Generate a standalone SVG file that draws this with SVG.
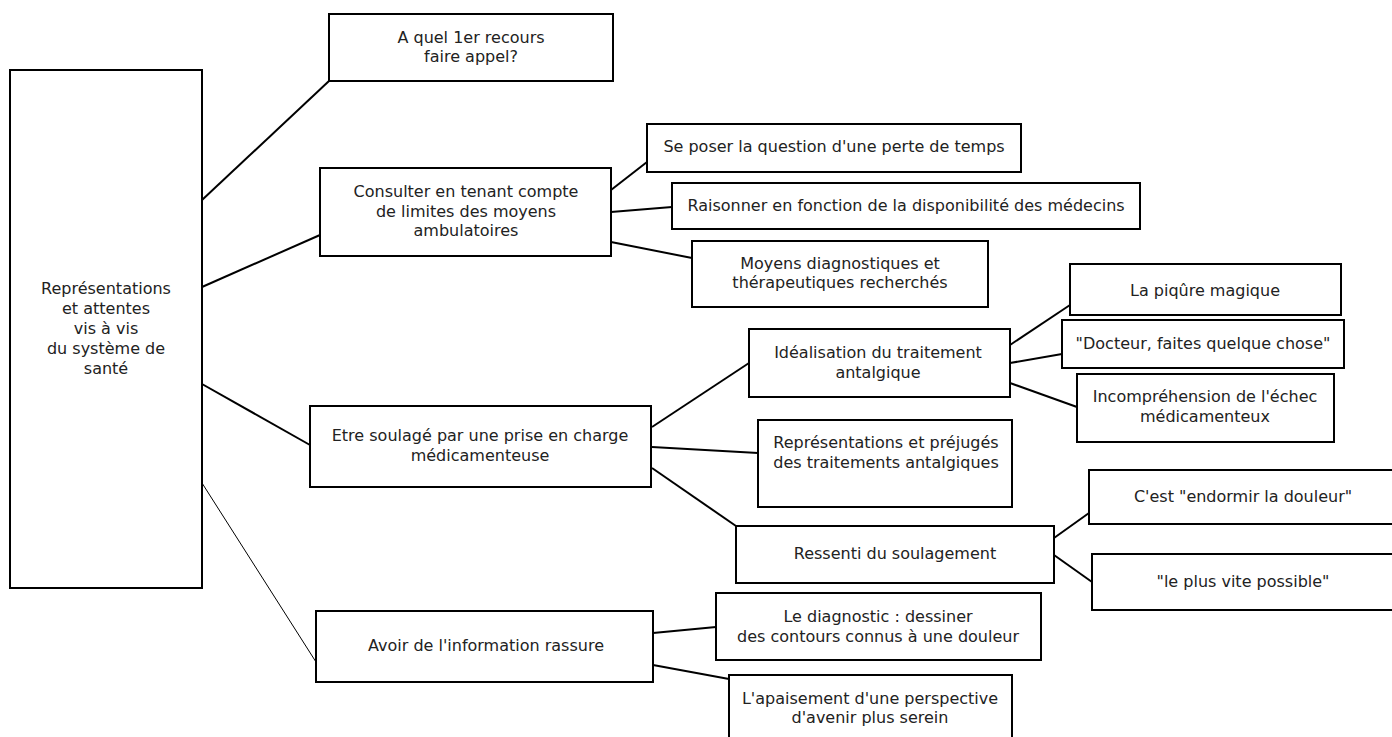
<svg xmlns="http://www.w3.org/2000/svg" width="1392" height="737" viewBox="0 0 1392 737">
<style>
rect{fill:#fff;stroke:#000;stroke-width:2}
text{font-family:"DejaVu Sans","Liberation Sans",sans-serif;font-size:16px;fill:#222;text-anchor:middle}
#connectors line{stroke:#000;stroke-width:2}
</style>
<rect x="0" y="0" width="1392" height="737" style="stroke:none"/>
<g id="connectors">
<line x1="202" y1="200" x2="329" y2="81"/>
<line x1="202" y1="287" x2="320" y2="235"/>
<line x1="202" y1="384" x2="310" y2="445"/>
<line x1="202" y1="483" x2="316" y2="662" style="stroke-width:1"/>
<line x1="611" y1="190" x2="647" y2="162"/>
<line x1="611" y1="212" x2="672" y2="207"/>
<line x1="611" y1="242" x2="692" y2="258"/>
<line x1="652" y1="427" x2="749" y2="363"/>
<line x1="652" y1="447" x2="758" y2="453"/>
<line x1="652" y1="468" x2="736" y2="526"/>
<line x1="1010" y1="345" x2="1070" y2="305"/>
<line x1="1010" y1="363" x2="1062" y2="354"/>
<line x1="1010" y1="383" x2="1077" y2="407"/>
<line x1="1054" y1="538" x2="1089" y2="513"/>
<line x1="1054" y1="555" x2="1092" y2="582"/>
<line x1="653" y1="633" x2="716" y2="627"/>
<line x1="653" y1="665" x2="729" y2="679"/>
</g>
<g id="root"><rect x="10" y="70" width="192" height="518"/>
<text x="106" y="294">Représentations</text><text x="106" y="314">et attentes</text><text x="106" y="334">vis à vis</text><text x="106" y="354">du système de</text><text x="106" y="374">santé</text></g>
<g id="n-recours"><rect x="329" y="14" width="284" height="67"/>
<text x="471" y="43">A quel 1er recours</text><text x="471" y="62">faire appel?</text></g>
<g id="n-consulter"><rect x="320" y="168" width="291" height="88"/>
<text x="466" y="197">Consulter en tenant compte</text><text x="466" y="217">de limites des moyens</text><text x="466" y="236">ambulatoires</text></g>
<g id="n-perte"><rect x="647" y="124" width="374" height="48"/>
<text x="834" y="152">Se poser la question d'une perte de temps</text></g>
<g id="n-dispo"><rect x="672" y="183" width="468" height="46"/>
<text x="906" y="211">Raisonner en fonction de la disponibilité des médecins</text></g>
<g id="n-moyens"><rect x="692" y="241" width="296" height="66"/>
<text x="840" y="269">Moyens diagnostiques et</text><text x="840" y="288">thérapeutiques recherchés</text></g>
<g id="n-soulage"><rect x="310" y="406" width="341" height="81"/>
<text x="480" y="441">Etre soulagé par une prise en charge</text><text x="480" y="461">médicamenteuse</text></g>
<g id="n-ideal"><rect x="749" y="329" width="261" height="68"/>
<text x="878" y="358">Idéalisation du traitement</text><text x="878" y="378">antalgique</text></g>
<g id="n-piqure"><rect x="1070" y="264" width="271" height="51"/>
<text x="1205" y="296">La piqûre magique</text></g>
<g id="n-docteur"><rect x="1062" y="320" width="282" height="48"/>
<text x="1203" y="349">"Docteur, faites quelque chose"</text></g>
<g id="n-echec"><rect x="1077" y="374" width="257" height="68"/>
<text x="1205" y="402">Incompréhension de l'échec</text><text x="1205" y="422">médicamenteux</text></g>
<g id="n-prejuges"><rect x="758" y="420" width="254" height="87"/>
<text x="886" y="448">Représentations et préjugés</text><text x="886" y="468">des traitements antalgiques</text></g>
<g id="n-ressenti"><rect x="736" y="526" width="318" height="57"/>
<text x="895" y="559">Ressenti du soulagement</text></g>
<g id="n-endormir"><rect x="1089" y="470" width="308" height="54"/>
<text x="1243" y="502">C'est "endormir la douleur"</text></g>
<g id="n-vite"><rect x="1092" y="554" width="305" height="56"/>
<text x="1243" y="587">"le plus vite possible"</text></g>
<g id="n-info"><rect x="316" y="611" width="337" height="71"/>
<text x="486" y="651">Avoir de l'information rassure</text></g>
<g id="n-diag"><rect x="716" y="593" width="325" height="67"/>
<text x="878" y="622">Le diagnostic : dessiner</text><text x="878" y="642">des contours connus à une douleur</text></g>
<g id="n-apaise"><rect x="729" y="675" width="283" height="70"/>
<text x="870" y="704">L'apaisement d'une perspective</text><text x="870" y="723">d'avenir plus serein</text></g>
</svg>
